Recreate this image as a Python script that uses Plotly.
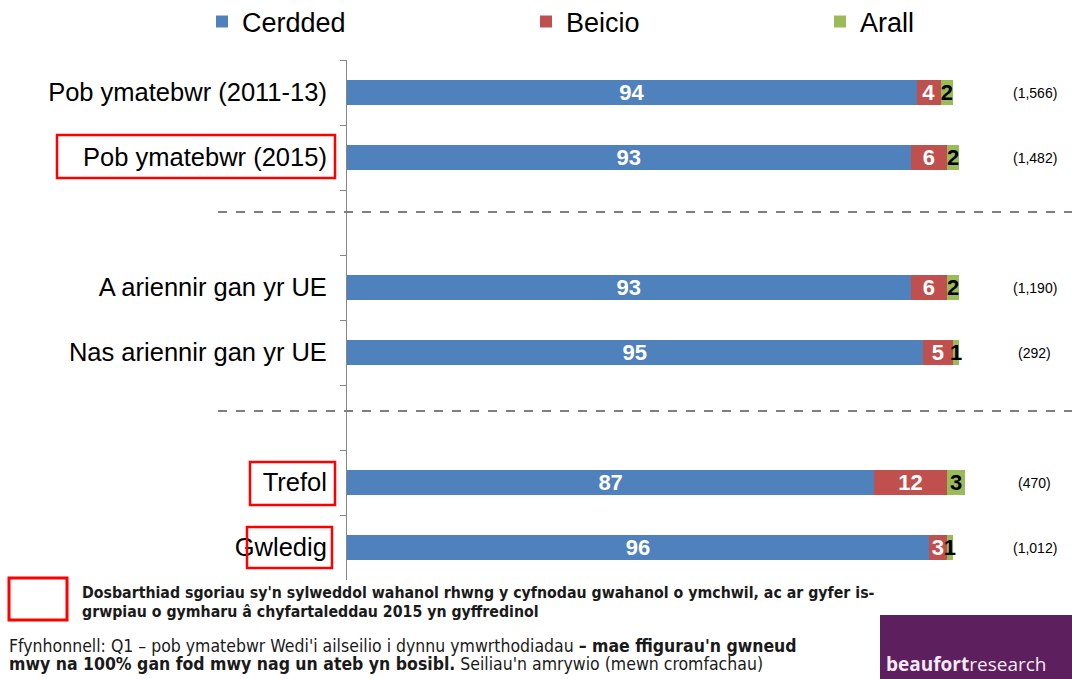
import plotly.graph_objects as go

# ---- data ----
categories = ["Pob ymatebwr (2011-13)", "Pob ymatebwr (2015)", " ",
              "A ariennir gan yr UE", "Nas ariennir gan yr UE", "  ",
              "Trefol", "Gwledig"]
cerdded = [94, 93, None, 93, 95, None, 87, 96]
beicio = [4, 6, None, 6, 5, None, 12, 3]
arall = [2, 2, None, 2, 1, None, 3, 1]
bases = ["(1,566)", "(1,482)", "", "(1,190)", "(292)", "", "(470)", "(1,012)"]
series_names = ["Cerdded", "Beicio", "Arall"]
colors = ["#4F81BD", "#C0504D", "#9BBB59"]
label_colors = ["white", "white", "black"]
highlighted = ["Pob ymatebwr (2015)", "Trefol", "Gwledig"]

W, H = 1072, 679
# plot area in page pixel coordinates
L, R, T, B = 347, 1072, 60, 580
XMAX = (R - L) / 6.06


def px(x):
    return (x - L) / (R - L)


def py(y):
    return (B - y) / (B - T)


def cx(x):
    return x / W


def cy(y):
    return 1 - y / H


NARROW = "Liberation Sans Narrow, Arial Narrow, DejaVu Sans Condensed, sans-serif"
ARIAL = "Liberation Sans, Arial, sans-serif"

fig = go.Figure()
legends = ["legend", "legend2", "legend3"]
for name, vals, col, lc, lg in zip(series_names, [cerdded, beicio, arall], colors, label_colors, legends):
    fig.add_trace(go.Bar(
        y=categories, x=vals, name=name, orientation="h",
        marker=dict(color=col, line=dict(width=0)),
        text=[("" if v is None else str(v)) for v in vals],
        textposition="inside", insidetextanchor="middle", textangle=0,
        constraintext="none",
        textfont=dict(family=ARIAL, size=22, color=lc, weight="bold"),
        legend=lg, hoverinfo="skip",
    ))

annotations = []
# sample-size labels
for cat, b in zip(categories, bases):
    if b:
        annotations.append(dict(x=113.5, y=cat, xref="x", yref="y", text=b,
                                showarrow=False, xanchor="center",
                                font=dict(family=ARIAL, size=14, color="black")))

foot_lines = [
    (80, 592, "<b>Dosbarthiad sgoriau sy'n sylweddol wahanol rhwng y cyfnodau gwahanol o ymchwil, ac ar gyfer is-</b>", 15.75),
    (80, 611, "<b>grwpiau o gymharu â chyfartaleddau 2015 yn gyffredinol</b>", 15.75),
    (7, 646, "Ffynhonnell: Q1 – pob ymatebwr Wedi'i ailseilio i dynnu ymwrthodiadau <b>– mae ffigurau'n gwneud</b>", 17.5),
    (7, 664, "<b>mwy na 100% gan fod mwy nag un ateb yn bosibl.</b> Seiliau'n amrywio (mewn cromfachau)", 17.5),
]
for x, y, t, s in foot_lines:
    annotations.append(dict(
        x=px(x), y=py(y), xref="paper", yref="paper", xanchor="left", yanchor="middle",
        align="left", showarrow=False, text=t,
        font=dict(family=NARROW, size=s, color="#1a1a1a")))
# logo text
annotations.append(dict(
    x=px(884), y=py(664), xref="paper", yref="paper", xanchor="left", yanchor="middle",
    showarrow=False, text="<b>beaufort</b>research",
    font=dict(family="Open Sans, sans-serif", size=19, color="#F3E9F3")))

shapes = []
# dashed separators
for yy in [212, 411]:
    shapes.append(dict(type="line", xref="paper", yref="paper",
                       x0=px(218), x1=px(1072), y0=py(yy), y1=py(yy),
                       line=dict(color="#7F7F7F", width=2, dash="dash")))
# red highlight boxes around labels
boxes = {"Pob ymatebwr (2015)": (57, 335, 135, 178),
         "Trefol": (250, 335, 462, 505),
         "Gwledig": (247, 332, 527, 568)}
for cat in highlighted:
    x0, x1, y0, y1 = boxes[cat]
    shapes.append(dict(type="rect", xref="paper", yref="paper",
                       x0=px(x0), x1=px(x1), y0=py(y1), y1=py(y0),
                       line=dict(color="#FF0000", width=2.5)))
# key box for footnote
shapes.append(dict(type="rect", xref="paper", yref="paper",
                   x0=px(9), x1=px(67), y0=py(620), y1=py(578),
                   line=dict(color="#FF0000", width=3)))
# logo background
shapes.append(dict(type="rect", xref="paper", yref="paper",
                   x0=px(880), x1=px(1072), y0=py(679), y1=py(615),
                   fillcolor="#5D1F5D", line=dict(width=0), layer="below"))

leg_common = dict(orientation="h", xref="container", yref="container",
                  yanchor="middle", xanchor="left", bgcolor="rgba(0,0,0,0)",
                  font=dict(family=ARIAL, size=27, color="black"),
                  itemwidth=30)

fig.update_layout(
    width=W, height=H,
    margin=dict(l=L, r=(W - R), t=T, b=H - B, autoexpand=False),
    barmode="stack", bargap=0.63,
    plot_bgcolor="rgba(0,0,0,0)", paper_bgcolor="white",
    showlegend=True,
    legend=dict(x=cx(222 - 20), y=cy(22), **leg_common),
    legend2=dict(x=cx(546 - 20), y=cy(22), **leg_common),
    legend3=dict(x=cx(840 - 20), y=cy(22), **leg_common),
    xaxis=dict(range=[0, XMAX], visible=False, fixedrange=True),
    yaxis=dict(categoryorder="array", categoryarray=categories, autorange="reversed",
               showline=True, linecolor="#868686", linewidth=1,
               ticks="outside", tickson="boundaries", ticklen=6, tickcolor="#868686",
               ticklabelstandoff=14,
               tickfont=dict(family=ARIAL, size=25.5, color="black"),
               showgrid=False, zeroline=False, fixedrange=True),
    annotations=annotations, shapes=shapes,
)

fig.write_html("out.html", config={"displayModeBar": False},
               post_script="document.body.style.margin='0';document.body.style.overflow='hidden';")
